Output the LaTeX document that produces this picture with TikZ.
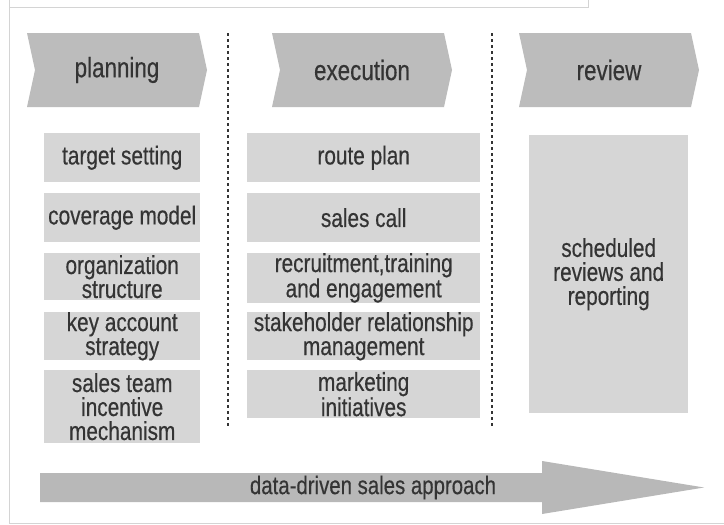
\documentclass[tikz,border=0pt]{standalone}
\usepackage{fontspec}
\setmainfont[FakeStretch=0.8,FakeBold=0.4]{Liberation Sans}
\usepackage{xcolor}
\definecolor{phasegray}{RGB}{188,188,188}
\definecolor{itemgray}{RGB}{214,214,214}
\definecolor{arrowgray}{RGB}{184,184,184}
\definecolor{inkgray}{RGB}{52,52,52}
\definecolor{framegray}{RGB}{212,212,212}
\tikzset{
  phase/.style={text=inkgray,font=\fontsize{28}{28}\selectfont},
  item/.style={fill=itemgray,text=inkgray,font=\fontsize{26}{24}\selectfont,
    align=center,inner sep=0pt,anchor=north west},
  sep/.style={line width=1.2pt,dash pattern=on 3pt off 3pt,inkgray},
}
\newcommand{\phasebox}[4]{%
  \fill[phasegray] (#2,33) -- (#3-8,33) -- (#3,70) -- (#3-8,107) -- (#2,107) -- (#2+8,70) -- cycle;
  \node[phase] (#1) at ({(#2+#3)/2},70) {#4};}

\begin{document}
\begin{tikzpicture}[x=1pt,y=-1pt]
\useasboundingbox (0,0) rectangle (724,525);
\fill[white] (0,0) rectangle (724,525);
\draw[framegray,line width=0.8pt] (588,0) -- (588,7) -- (9,7);
\draw[framegray,line width=0.8pt] (9,0) -- (9,523) -- (724,523);

\phasebox{plan}{27}{207}{planning}
\phasebox{exec}{272}{452}{execution}
\phasebox{rev}{519}{699}{review}

\draw[sep] (228,33) -- (228,428);
\draw[sep] (492,33) -- (492,428);

\node[item,minimum width=156pt,minimum height=49pt] (target) at (44,133) {target setting};
\node[item,minimum width=156pt,minimum height=49pt] (coverage) at (44,193) {coverage model};
\node[item,minimum width=156pt,minimum height=47pt] (orga) at (44,253) {organization\\structure};
\node[item,minimum width=156pt,minimum height=48pt] (keyacc) at (44,312) {key account\\strategy};
\node[item,minimum width=156pt,minimum height=73pt] (incentive) at (44,370) {sales team\\incentive\\mechanism};

\node[item,minimum width=233pt,minimum height=49pt] (route) at (247,133) {route plan};
\node[item,minimum width=233pt,minimum height=49pt] (call) at (247,193) {sales call};
\node[item,minimum width=233pt,minimum height=47pt] (recruit) at (247,253) {recruitment,training\\and engagement};
\node[item,minimum width=233pt,minimum height=48pt] (stake) at (247,312) {stakeholder relationship\\management};
\node[item,minimum width=233pt,minimum height=48pt] (marketing) at (247,370) {marketing\\initiatives};

\node[item,minimum width=159pt,minimum height=278pt] (reports) at (529,135) {scheduled\\reviews and\\reporting};

\fill[arrowgray] (40,473) -- (542,473) -- (542,461) -- (704,487.5) -- (542,514) -- (542,502) -- (40,502) -- cycle;
\node[phase,font=\fontsize{25.5}{25.5}\selectfont] (approach) at (373,487.5) {data-driven sales approach};
\end{tikzpicture}
\end{document}
